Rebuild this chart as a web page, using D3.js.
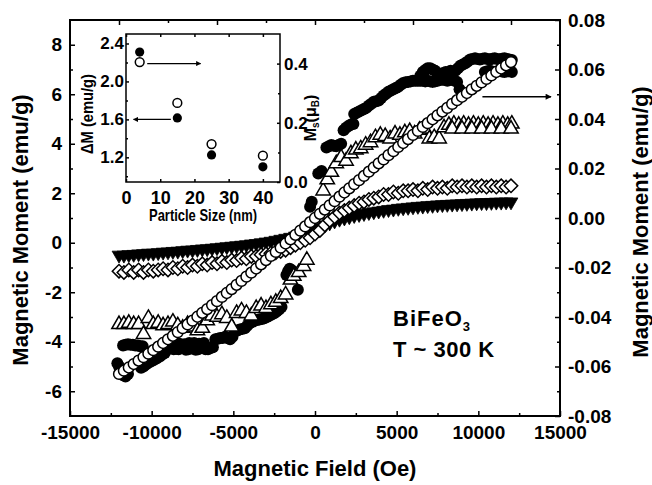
<!DOCTYPE html>
<html><head><meta charset="utf-8">
<script src="https://cdn.jsdelivr.net/npm/d3@7"></script>
<style>
body{margin:0;background:#fff}
svg{display:block}
text{font-family:"Liberation Sans",Arial,Helvetica,sans-serif;font-weight:bold;fill:#000}
</style>
</head><body>
<svg id="c" width="652" height="485"></svg>
<script>
// ---------------- DATA ----------------
// Common field sweep (Oe) for the evenly sampled series
const fieldSweep = [-12000,-11700,-11400,-11100,-10800,-10500,-10200,-9900,-9600,-9300,-9000,-8700,-8400,-8100,-7800,-7500,-7200,-6900,-6600,-6300,-6000,-5700,-5400,-5100,-4800,-4500,-4200,-3900,-3600,-3300,-3000,-2700,-2400,-2100,-1800,-1500,-1200,-900,-600,-300,0,300,600,900,1200,1500,1800,2100,2400,2700,3000,3300,3600,3900,4200,4500,4800,5100,5400,5700,6000,6300,6600,6900,7200,7500,7800,8100,8400,8700,9000,9300,9600,9900,10200,10500,10800,11100,11400,11700,12000];

// Open circles (right axis, emu/g)
const openCircleMoment = [-0.0630,-0.0617,-0.0604,-0.0590,-0.0576,-0.0562,-0.0548,-0.0534,-0.0520,-0.0505,-0.0490,-0.0476,-0.0461,-0.0445,-0.0430,-0.0415,-0.0399,-0.0383,-0.0368,-0.0352,-0.0336,-0.0319,-0.0303,-0.0287,-0.0270,-0.0254,-0.0237,-0.0221,-0.0204,-0.0187,-0.0170,-0.0153,-0.0137,-0.0120,-0.0103,-0.0086,-0.0068,-0.0051,-0.0034,-0.0017,0,0.0017,0.0034,0.0051,0.0068,0.0086,0.0103,0.0120,0.0137,0.0153,0.0170,0.0187,0.0204,0.0221,0.0237,0.0254,0.0270,0.0287,0.0303,0.0319,0.0336,0.0352,0.0368,0.0383,0.0399,0.0415,0.0430,0.0445,0.0461,0.0476,0.0490,0.0505,0.0520,0.0534,0.0548,0.0562,0.0576,0.0590,0.0604,0.0617,0.0630];

// Open diamonds (left axis)
const diamondMoment = [-1.15,-1.2,-1.1,-1.2,-1.1,-1.2,-1.1,-1.15,-1.1,-1.05,-1.1,-1.0,-1.05,-0.95,-1.0,-0.9,-0.95,-0.85,-0.9,-0.8,-0.85,-0.75,-0.8,-0.7,-0.72,-0.62,-0.65,-0.55,-0.55,-0.48,-0.45,-0.42,-0.4,-0.35,-0.3,-0.2,-0.1,0.0,0.1,0.2,0.35,0.5,0.72,0.9,1.05,1.2,1.3,1.4,1.5,1.6,1.65,1.75,1.8,1.85,1.95,1.95,2.05,2.0,2.1,2.1,2.15,2.1,2.2,2.15,2.25,2.2,2.25,2.2,2.3,2.25,2.3,2.25,2.3,2.25,2.3,2.25,2.3,2.25,2.3,2.25,2.3];

// Filled down triangles (left axis)
const downTriangleMoment = [-0.5,-0.5,-0.48,-0.47,-0.45,-0.44,-0.42,-0.42,-0.4,-0.38,-0.37,-0.35,-0.34,-0.32,-0.3,-0.29,-0.27,-0.25,-0.24,-0.22,-0.2,-0.18,-0.16,-0.14,-0.12,-0.1,-0.08,-0.05,-0.03,0.0,0.03,0.06,0.1,0.14,0.18,0.22,0.27,0.32,0.38,0.45,0.52,0.62,0.72,0.8,0.88,0.95,1.0,1.05,1.1,1.14,1.18,1.22,1.25,1.28,1.31,1.34,1.36,1.39,1.41,1.43,1.45,1.47,1.48,1.5,1.51,1.53,1.54,1.55,1.56,1.57,1.58,1.59,1.6,1.61,1.62,1.62,1.63,1.64,1.64,1.65,1.65];

// Filled circles (left axis): [field Oe, moment emu/g]
const filledCirclePoints = [
 [-12100,-4.87],[-12000,-5.0],[-11900,-5.15],[-11750,-5.35],[-11600,-5.40],[-11450,-5.3],
 [-11750,-4.15],[-11600,-4.12],[-11450,-4.10],[-11300,-4.12],[-11150,-4.12],[-11000,-4.15],[-10850,-4.15],[-10700,-4.18],[-10550,-4.18],
 [-10650,-5.05],[-10500,-5.00],[-10350,-4.92],[-10200,-4.85],[-10050,-4.80],[-9900,-4.75],[-9700,-4.68],[-9500,-4.60],[-9350,-4.52],[-9200,-4.45],
 [-9100,-4.32],[-8950,-4.28],[-8800,-4.25],[-8650,-4.30],[-8500,-4.28],[-8350,-4.30],[-8200,-4.22],[-8050,-4.25],[-7900,-4.32],[-7750,-4.30],
 [-7600,-4.25],[-7450,-4.28],[-7300,-4.32],[-7150,-4.30],[-7000,-4.22],[-6850,-4.25],[-6700,-4.30],[-6550,-4.30],[-6400,-4.25],[-6250,-4.22],
 [-8600,-4.05],[-8300,-4.08],[-8000,-4.10],[-7700,-4.05],[-7400,-4.05],[-7100,-4.08],[-6800,-4.05],
 [-6100,-3.90],[-5950,-3.88],[-5800,-3.85],[-5650,-3.85],[-5500,-3.80],[-5350,-3.85],[-5200,-3.90],[-5050,-3.80],
 [-4900,-3.55],[-4750,-3.55],[-4600,-3.50],[-4450,-3.48],[-4300,-3.45],[-4150,-3.35],
 [-4000,-3.25],[-3850,-3.20],[-3700,-3.15],[-3550,-3.12],[-3400,-3.10],[-3250,-3.08],[-3100,-3.05],
 [-2950,-3.00],[-2800,-2.95],[-2650,-2.90],[-2500,-2.85],[-2350,-2.78],[-2200,-2.70],[-2050,-2.60],
 [-1750,-1.30],[-1650,-1.15],[-1550,-1.05],[-1450,-1.10],[-1350,-1.15],[-1050,-1.90],
 [-300,1.45],[-200,1.66],[200,2.80],[400,2.90],
 [700,3.85],[850,3.90],[1000,3.95],[1150,3.92],[1300,3.90],[1450,3.95],[1600,4.00],
 [1750,4.55],[1900,4.65],[2050,4.72],[2200,4.78],[2350,4.80],
 [2400,5.20],[2550,5.25],[2700,5.30],[2850,5.35],[3000,5.40],[3150,5.45],[3300,5.55],[3450,5.62],[3600,5.70],[3750,5.72],[3900,5.75],[4050,5.85],
 [4200,5.95],[4350,6.02],[4500,6.10],[4650,6.15],[4800,6.20],[4950,6.25],[5100,6.30],[5250,6.38],[5400,6.45],[5550,6.48],[5700,6.50],[5850,6.52],[6000,6.55],[6150,6.55],[6300,6.55],
 [6450,6.75],[6600,6.90],[6750,6.98],[6900,7.05],[7050,7.05],[7200,7.00],[7350,6.95],[7500,6.85],[7650,6.80],
 [6450,6.55],[6600,6.55],[6750,6.52],[6900,6.55],[7050,6.52],[7200,6.50],[7350,6.52],[7500,6.55],[7650,6.58],[7800,6.60],[7950,6.58],[8100,6.55],[8250,6.58],[8400,6.60],[8550,6.55],[8700,6.50],
 [8850,6.20],[7800,6.85],[8000,6.90],[8300,6.95],
 [8600,6.95],[8750,7.05],[8900,7.15],[9050,7.20],[9200,7.25],[9350,7.32],[9500,7.40],[9650,7.42],[9800,7.45],[9950,7.42],[10100,7.40],[10250,7.43],[10400,7.45],[10550,7.42],[10700,7.40],[10850,7.43],[11000,7.45],[11150,7.42],[11300,7.40],[11450,7.43],[11600,7.45],[11750,7.42],[11900,7.40],[12050,7.38],
 [10400,6.90],[10550,6.93],[10700,6.95],[10850,6.92],[11000,6.90],[11150,6.93],[11300,6.95],[11450,6.92],[11600,6.90],[11750,6.93],[11900,6.95],[12050,6.90]
];

// Open up-triangles (left axis): [field Oe, moment emu/g]
const trianglePoints = [
 [-12000,-3.3],[-11700,-3.3],[-11400,-3.25],[-11100,-3.3],[-10800,-3.3],[-10500,-3.7],[-10200,-3.05],[-9900,-3.3],[-9600,-3.25],[-9300,-3.35],
 [-9000,-3.3],[-8700,-3.2],[-8400,-3.35],[-8100,-3.45],[-7800,-3.3],[-7500,-3.4],[-7200,-3.55],[-6900,-3.45],[-6600,-3.15],[-6300,-2.95],
 [-6000,-3.0],[-5700,-2.9],[-5400,-3.05],[-5100,-3.4],[-4800,-2.85],[-4500,-2.75],[-4200,-2.85],[-3900,-2.95],[-3600,-2.65],[-3300,-2.55],
 [-3000,-2.65],[-2700,-2.5],[-2400,-2.4],[-2100,-2.25],[-1800,-2.1],[-1500,-1.5],[-1300,-1.35],[-1000,-1.2],[-700,-0.95],[-500,-0.7],
 [500,2.1],[750,2.55],[1000,2.85],[1300,3.2],[1600,3.45],[1900,3.3],[2200,3.6],[2500,3.75],[2800,3.8],[3100,3.95],
 [3400,4.05],[3700,4.25],[4000,4.35],[4300,4.3],[4600,4.2],[4900,4.4],[5200,4.35],[5500,4.45],[5800,4.5],[6100,4.4],
 [6400,4.55],[6700,4.6],[7000,4.2],[7300,4.25],[7600,4.2],[7900,4.65],[8200,4.75],[8500,4.8],[8800,4.75],[9100,4.8],
 [9400,4.75],[9700,4.8],[10000,4.75],[10300,4.8],[10600,4.75],[10900,4.8],[11200,4.75],[11500,4.8],[11800,4.75],[12050,4.8],
 [8400,4.6],[9000,4.6],[9600,4.6],[10200,4.6],[10800,4.6],[11400,4.6],[12000,4.6]
];

// Inset data
const particleSize = [4, 15, 25, 40];
const deltaM = [2.31, 1.615, 1.225, 1.10];             // left inset axis (emu/g)
const saturationMoment = [0.405, 0.267, 0.128, 0.089]; // right inset axis (mu_B)

// Tick values
const xMajorTicks = [-15000,-10000,-5000,0,5000,10000,15000];
const xMinorTicks = [-12500,-7500,-2500,2500,7500,12500];
const xTopMajorTicks = [-12000,-6000,0,6000,12000];
const xTopMinorTicks = [-9000,-3000,3000,9000];
const yLeftMajorTicks = [-6,-4,-2,0,2,4,6,8];
const yLeftMinorTicks = [-5,-3,-1,1,3,5,7];
const yRightMajorTicks = [-0.08,-0.06,-0.04,-0.02,0,0.02,0.04,0.06,0.08];
const yRightMinorTicks = [-0.07,-0.05,-0.03,-0.01,0.01,0.03,0.05,0.07];
const insetXTicks = [0,10,20,30,40];
const insetYLeftTicks = [1.2,1.6,2.0,2.4];
const insetYLeftMinor = [1.0,1.4,1.8,2.2];
const insetYRightTicks = [0.0,0.2,0.4];
const insetYRightMinor = [0.1,0.3];

// ---------------- DRAWING ----------------
const FONT = '"Liberation Sans",Arial,Helvetica,sans-serif';
const svg = d3.select("#c");
svg.append("rect").attr("width",652).attr("height",485).attr("fill","#fff");

const x = d3.scaleLinear().domain([-15000,15000]).range([70,560]);
const yL = d3.scaleLinear().domain([-7,9]).range([416,20]);
const yR = d3.scaleLinear().domain([-0.08,0.08]).range([416,20]);

const defs = svg.append("defs");
function arrowMarker(id,w,h){
  defs.append("marker").attr("id",id).attr("viewBox","0 0 10 10")
    .attr("refX",9).attr("refY",5).attr("markerWidth",w).attr("markerHeight",h)
    .attr("markerUnits","userSpaceOnUse").attr("orient","auto-start-reverse")
    .append("path").attr("d","M0,0L10,5L0,10z").attr("fill","#000");
}
arrowMarker("ahBig",9,6);
arrowMarker("ahSmall",6,5);

function styleAxis(g,fs){
  g.select(".domain").remove();
  g.selectAll(".tick line").attr("stroke","#000").attr("stroke-width",1.5);
  g.selectAll(".tick text").attr("font-size",fs).attr("font-family",FONT)
    .attr("font-weight","bold").attr("fill","#000");
}

// main axes
svg.append("g").attr("transform","translate(0,416)")
  .call(d3.axisBottom(x).tickValues(xMajorTicks).tickSize(-5).tickPadding(10).tickFormat(d=>String(d)))
  .call(styleAxis,19);
svg.append("g").attr("transform","translate(0,416)")
  .call(d3.axisBottom(x).tickValues(xMinorTicks).tickSize(-3).tickFormat(""))
  .call(styleAxis,19);
svg.append("g").attr("transform","translate(0,20)")
  .call(d3.axisTop(x).tickValues(xTopMajorTicks).tickSize(-5).tickFormat(""))
  .call(styleAxis,19);
svg.append("g").attr("transform","translate(0,20)")
  .call(d3.axisTop(x).tickValues(xTopMinorTicks).tickSize(-3).tickFormat(""))
  .call(styleAxis,19);
svg.append("g").attr("transform","translate(70,0)")
  .call(d3.axisLeft(yL).tickValues(yLeftMajorTicks).tickSize(-5).tickPadding(8).tickFormat(d=>String(d)))
  .call(styleAxis,19);
svg.append("g").attr("transform","translate(70,0)")
  .call(d3.axisLeft(yL).tickValues(yLeftMinorTicks).tickSize(-3).tickFormat(""))
  .call(styleAxis,19);
svg.append("g").attr("transform","translate(560,0)")
  .call(d3.axisRight(yR).tickValues(yRightMajorTicks).tickSize(-5).tickPadding(8).tickFormat(d=>d.toFixed(2)))
  .call(styleAxis,19);
svg.append("g").attr("transform","translate(560,0)")
  .call(d3.axisRight(yR).tickValues(yRightMinorTicks).tickSize(-3).tickFormat(""))
  .call(styleAxis,19);

// series
const triSym = d3.symbol().type(d3.symbolTriangle);
const sqSym = d3.symbol().type(d3.symbolSquare);

// filled down triangles
svg.append("g").selectAll("path").data(fieldSweep.map((h,i)=>[h,downTriangleMoment[i]]))
  .join("path").attr("d",triSym.size(82)())
  .attr("transform",d=>`translate(${x(d[0])},${yL(d[1])}) rotate(180)`)
  .attr("fill","#000").attr("stroke","#000").attr("stroke-width",0.8);

// open diamonds
svg.append("g").selectAll("path").data(fieldSweep.map((h,i)=>[h,diamondMoment[i]]))
  .join("path").attr("d",sqSym.size(90)())
  .attr("transform",d=>`translate(${x(d[0])},${yL(d[1])}) rotate(45)`)
  .attr("fill","#fff").attr("stroke","#000").attr("stroke-width",1.5);

// filled circles
svg.append("g").selectAll("circle").data(filledCirclePoints)
  .join("circle").attr("cx",d=>x(d[0])).attr("cy",d=>yL(d[1])).attr("r",6)
  .attr("fill","#000");

// open triangles
svg.append("g").selectAll("path").data(trianglePoints)
  .join("path").attr("d",triSym.size(90)())
  .attr("transform",d=>`translate(${x(d[0])},${yL(d[1])})`)
  .attr("fill","#fff").attr("stroke","#000").attr("stroke-width",1.5);

// open circles (right axis)
svg.append("g").selectAll("circle").data(fieldSweep.map((h,i)=>[h,openCircleMoment[i]]))
  .join("circle").attr("cx",d=>x(d[0])).attr("cy",d=>yR(d[1])).attr("r",5.4)
  .attr("fill","#fff").attr("stroke","#000").attr("stroke-width",1.5);

// arrow pointing to right axis
svg.append("line").attr("x1",x(10250)).attr("x2",x(14450))
  .attr("y1",yR(0.049)).attr("y2",yR(0.049))
  .attr("stroke","#000").attr("stroke-width",1.3).attr("marker-end","url(#ahBig)");

// frame
svg.append("rect").attr("x",70).attr("y",20).attr("width",490).attr("height",396)
  .attr("fill","none").attr("stroke","#000").attr("stroke-width",2);

// axis titles
svg.append("text").attr("x",315).attr("y",476).attr("text-anchor","middle")
  .attr("font-size",22).text("Magnetic Field (Oe)");
svg.append("text").attr("transform","translate(28,230) rotate(-90)").attr("text-anchor","middle")
  .attr("font-size",22).text("Magnetic Moment (emu/g)");
svg.append("text").attr("transform","translate(648,222) rotate(-90)").attr("text-anchor","middle")
  .attr("font-size",22).text("Magnetic Moment (emu/g)");

// annotation
const t1 = svg.append("text").attr("x",393).attr("y",326).attr("font-size",22).attr("letter-spacing",1);
t1.append("tspan").text("BiFeO");
t1.append("tspan").attr("font-size",13).attr("dy",5).text("3");
svg.append("text").attr("x",393).attr("y",357).attr("font-size",22).attr("letter-spacing",0.5).text("T ~ 300 K");

// ---------------- INSET ----------------
const ix = d3.scaleLinear().domain([0,45]).range([126,280]);
const iyL = d3.scaleLinear().domain([0.94,2.5]).range([182,34]);
const iyR = d3.scaleLinear().domain([0,0.5]).range([182,34]);

svg.append("rect").attr("x",126).attr("y",34).attr("width",154).attr("height",148)
  .attr("fill","#fff").attr("stroke","none");

svg.append("g").attr("transform","translate(0,182)")
  .call(d3.axisBottom(ix).tickValues(insetXTicks).tickSize(-3).tickPadding(9).tickFormat(d=>String(d)))
  .call(styleAxis,18);
svg.append("g").attr("transform","translate(0,34)")
  .call(d3.axisTop(ix).tickValues(insetXTicks).tickSize(-3).tickFormat(""))
  .call(styleAxis,18);
svg.append("g").attr("transform","translate(126,0)")
  .call(d3.axisLeft(iyL).tickValues(insetYLeftTicks).tickSize(-3).tickPadding(2).tickFormat(d3.format(".1f")))
  .call(styleAxis,17);
svg.append("g").attr("transform","translate(126,0)")
  .call(d3.axisLeft(iyL).tickValues(insetYLeftMinor).tickSize(-2).tickFormat(""))
  .call(styleAxis,17);
svg.append("g").attr("transform","translate(280,0)")
  .call(d3.axisRight(iyR).tickValues(insetYRightTicks).tickSize(-3).tickPadding(4).tickFormat(d3.format(".1f")))
  .call(styleAxis,17);
svg.append("g").attr("transform","translate(280,0)")
  .call(d3.axisRight(iyR).tickValues(insetYRightMinor).tickSize(-2).tickFormat(""))
  .call(styleAxis,17);

svg.append("rect").attr("x",126).attr("y",34).attr("width",154).attr("height",148)
  .attr("fill","none").attr("stroke","#000").attr("stroke-width",1.5);

// inset points
svg.append("g").selectAll("circle").data(particleSize.map((s,i)=>[s,deltaM[i]]))
  .join("circle").attr("cx",d=>ix(d[0])).attr("cy",d=>iyL(d[1])).attr("r",4.6).attr("fill","#000");
svg.append("g").selectAll("circle").data(particleSize.map((s,i)=>[s,saturationMoment[i]]))
  .join("circle").attr("cx",d=>ix(d[0])).attr("cy",d=>iyR(d[1])).attr("r",4.4)
  .attr("fill","#fff").attr("stroke","#000").attr("stroke-width",1.5);

// inset arrows
svg.append("line").attr("x1",ix(6.2)).attr("x2",ix(21.8)).attr("y1",iyR(0.40)).attr("y2",iyR(0.40))
  .attr("stroke","#000").attr("stroke-width",1.2).attr("marker-end","url(#ahSmall)");
svg.append("line").attr("x1",ix(2.2)).attr("x2",ix(13.1)).attr("y1",iyL(1.6)).attr("y2",iyL(1.6))
  .attr("stroke","#000").attr("stroke-width",1.2).attr("marker-start","url(#ahSmall)");

// inset titles
svg.append("text").attr("x",ix(22.5)).attr("y",221).attr("text-anchor","middle")
  .attr("font-size",17).attr("textLength",108).attr("lengthAdjust","spacingAndGlyphs")
  .text("Particle Size (nm)");
svg.append("text").attr("transform","translate(93,114) rotate(-90)").attr("text-anchor","middle")
  .attr("font-size",16).attr("textLength",80).attr("lengthAdjust","spacingAndGlyphs")
  .text("ΔM (emu/g)");
const ms = svg.append("text").attr("transform","translate(316,118) rotate(-90)").attr("text-anchor","middle")
  .attr("font-size",16);
ms.append("tspan").text("M");
ms.append("tspan").attr("font-size",10).attr("dy",3).text("s");
ms.append("tspan").attr("dy",-3).text("(μ");
ms.append("tspan").attr("font-size",10).attr("dy",3).text("B");
ms.append("tspan").attr("dy",-3).text(")");
</script>
</body></html>
